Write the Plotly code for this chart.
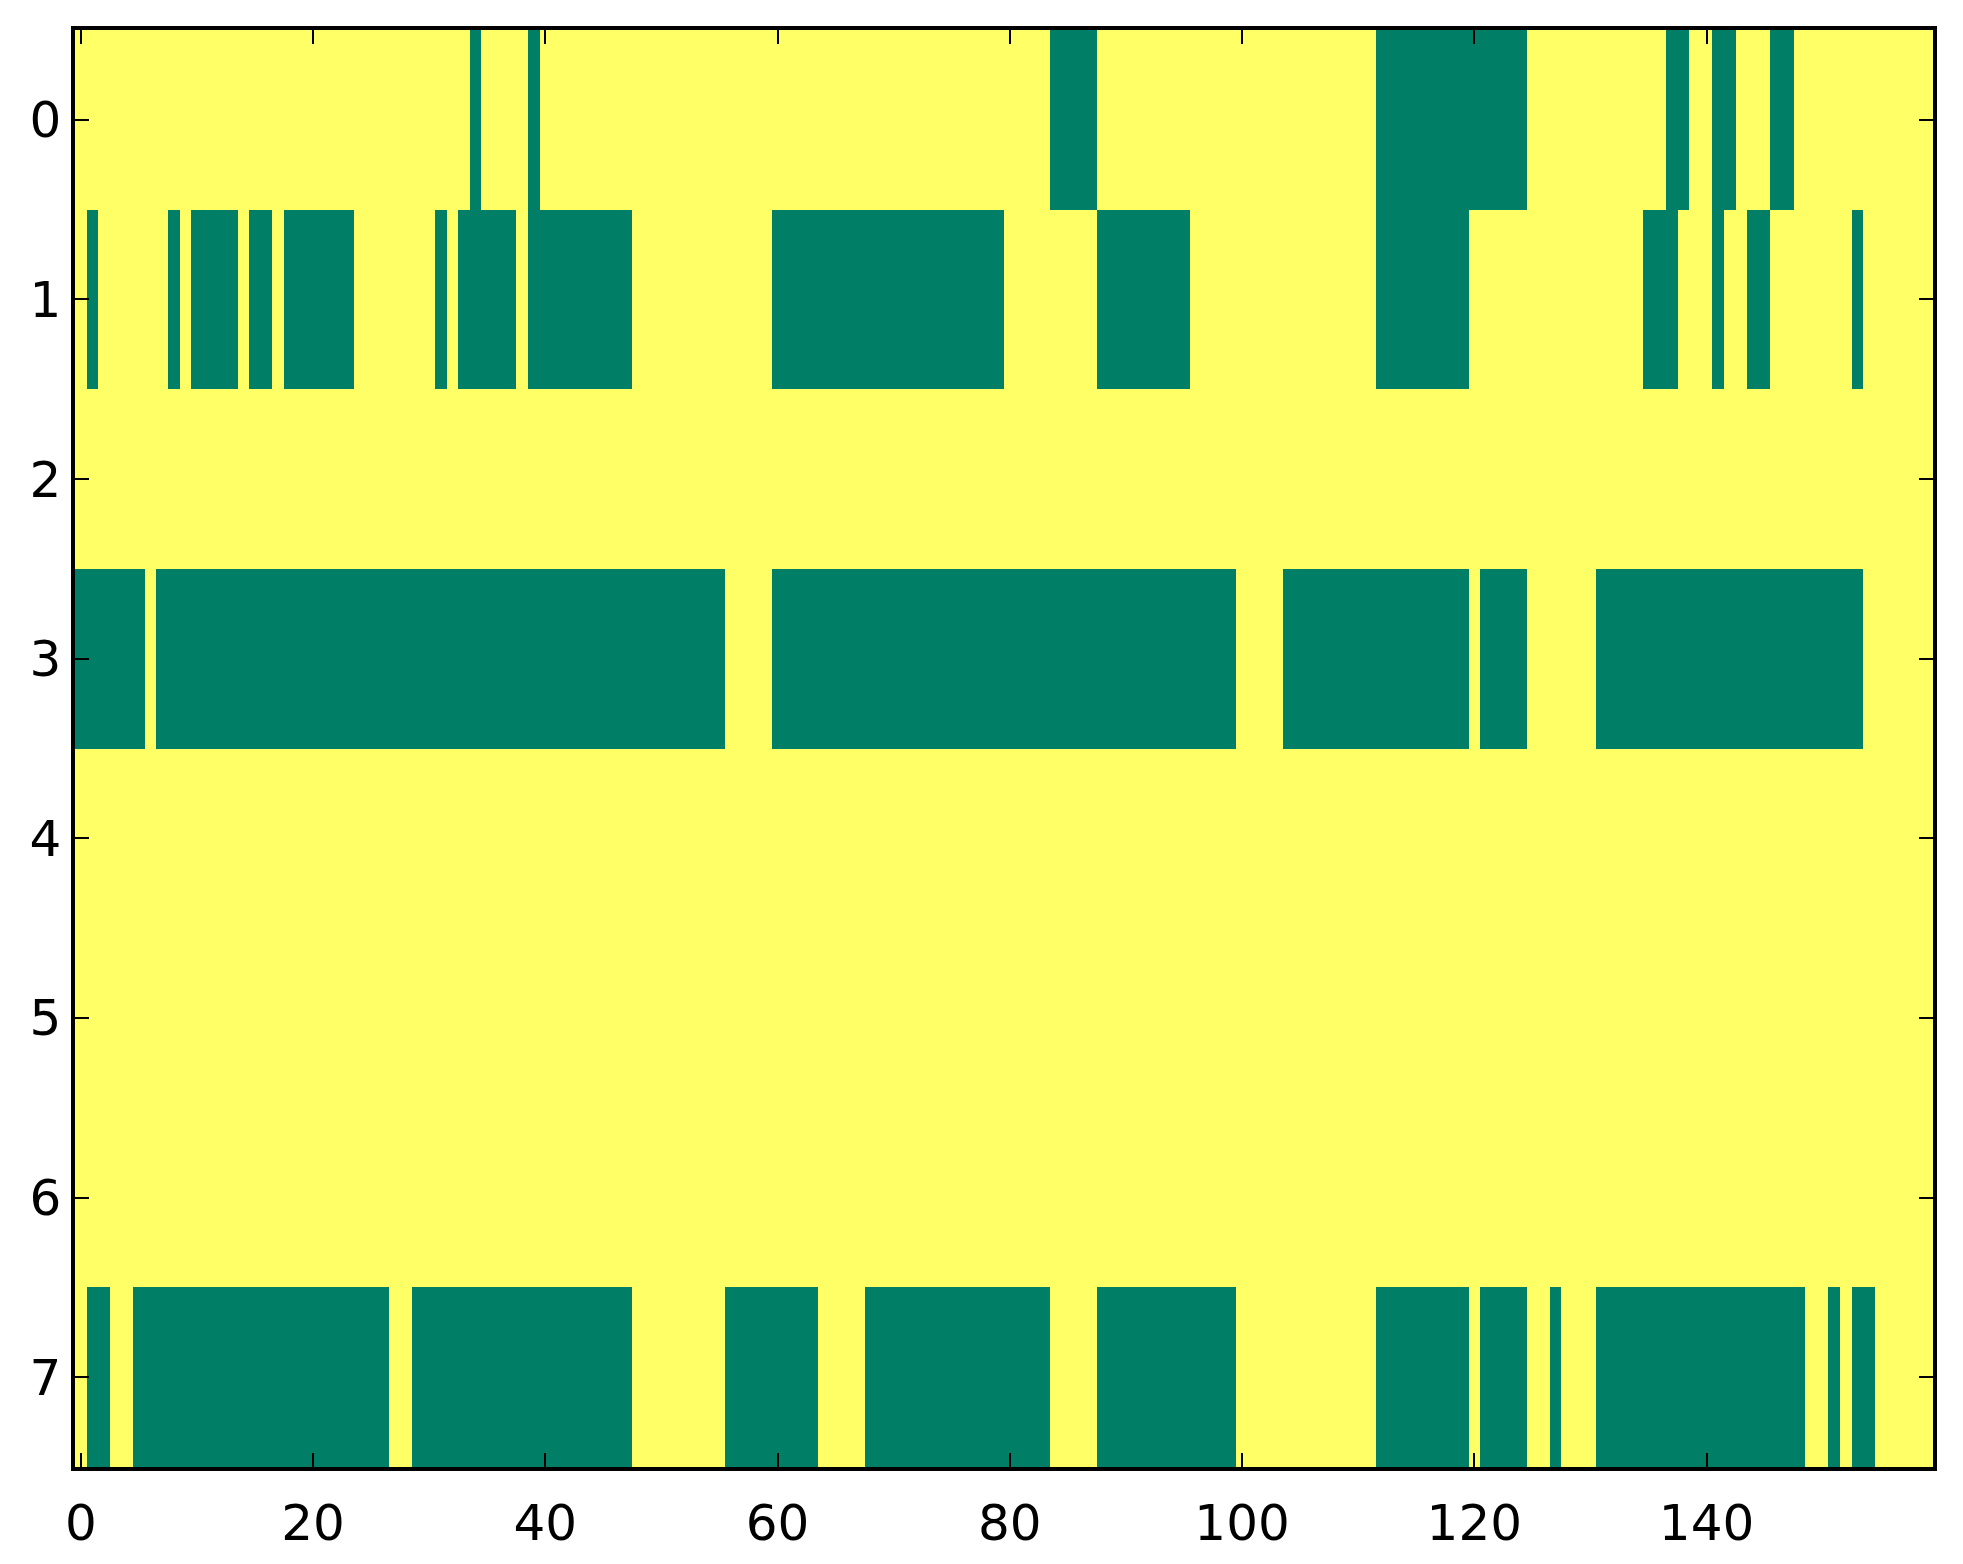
import plotly.graph_objects as go

# grade binaria 8 x 160: 1 = amarelo, 0 = verde
n_linhas = 8
n_colunas = 160

# trechos com valor 0 (verde) em cada linha, (inicio, fim) inclusivo
trechos_linha0 = [(34, 34), (39, 39), (84, 87), (112, 124), (137, 138), (141, 142), (146, 147)]
trechos_linha1 = [(1, 1), (8, 8), (10, 13), (15, 16), (18, 23), (31, 31), (33, 37), (39, 47),
                  (60, 79), (88, 95), (112, 119), (135, 137), (141, 141), (144, 145), (153, 153)]
trechos_linha2 = []
trechos_linha3 = [(0, 5), (7, 55), (60, 99), (104, 119), (121, 124), (131, 153)]
trechos_linha4 = []
trechos_linha5 = []
trechos_linha6 = []
trechos_linha7 = [(1, 2), (5, 26), (29, 47), (56, 63), (68, 83), (88, 99), (112, 119),
                  (121, 124), (127, 127), (131, 148), (151, 151), (153, 154)]

trechos = [trechos_linha0, trechos_linha1, trechos_linha2, trechos_linha3,
           trechos_linha4, trechos_linha5, trechos_linha6, trechos_linha7]

x_ticks = [0, 20, 40, 60, 80, 100, 120, 140]
y_ticks = list(range(n_linhas))

# monta a matriz a partir dos trechos
z = []
for linha in trechos:
    valores = [1] * n_colunas
    for ini, fim in linha:
        for c in range(ini, fim + 1):
            valores[c] = 0
    z.append(valores)

fig = go.Figure(go.Heatmap(
    z=z,
    x=list(range(n_colunas)),
    y=y_ticks,
    zmin=0, zmax=1,
    colorscale=[[0, 'rgb(0,127,102)'], [1, 'rgb(255,255,102)']],
    showscale=False,
    hoverinfo='skip',
))

fonte = dict(family='DejaVu Sans', size=50, color='black')
eixo = dict(
    showgrid=False, zeroline=False,
    showline=True, linecolor='black', linewidth=3.5, mirror='ticks',
    ticks='inside', ticklen=14, tickwidth=2, tickcolor='black',
    tickfont=fonte,
)

fig.update_xaxes(range=[-0.5, n_colunas - 0.5], tickvals=x_ticks, ticklabelstandoff=9, **eixo)
fig.update_yaxes(range=[n_linhas - 0.5, -0.5], tickvals=y_ticks, ticklabelstandoff=0, **eixo)

# o body da pagina desloca 8px, entao a figura fica 8px menor para caber na janela
fig.update_layout(
    width=1955, height=1556,
    margin=dict(l=67, r=30, t=22, b=93),
    paper_bgcolor='white', plot_bgcolor='white',
)

fig.write_html("out.html")
